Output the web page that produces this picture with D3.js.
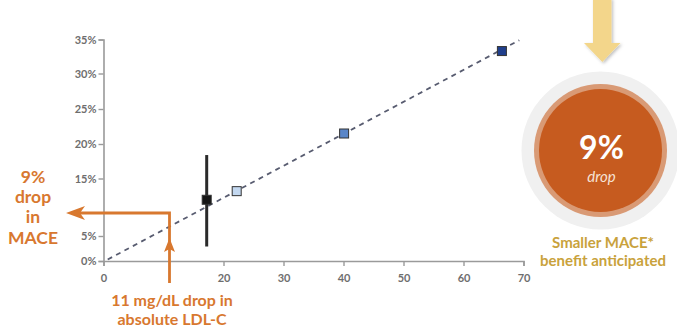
<!DOCTYPE html>
<html><head><meta charset="utf-8">
<script src="https://cdn.jsdelivr.net/npm/d3@7"></script>
<style>
html,body{margin:0;padding:0;background:#fff;}
svg{display:block;font-family:Lato,"Open Sans",sans-serif;}
</style></head>
<body><svg id="c" width="677" height="332"></svg>
<script>
// ---- data ----
const xTicks = [0, 20, 30, 40, 50, 60, 70];
const yTicks = [0, 5, 15, 20, 25, 30, 35];
const pointX = [17.2, 22.2, 40.1, 66.4];
const pointY = [11.3, 12.8, 21.5, 33.3];
const pointNames = ["black", "light", "mid", "dark"];
const errLow = [2.9];
const errHigh = [18.4];
const trendX = [0.7, 69.3];
const trendY = [0.3, 34.9];
const ldlDrop = 11;      // mg/dL
const maceDrop = 9;      // %
const leftLabel = ["9%", "drop", "in", "MACE"];
const bottomLabel = ["11 mg/dL drop in", "absolute LDL-C"];
const circleValue = "9%";
const circleSub = "drop";
const rightLabel = ["Smaller MACE*", "benefit anticipated"];

// ---- styles ----
const orange = "#D8782F";
const gold = "#C9A23C";
const fills = {black: "#151515", light: "#C3D8F0", mid: "#5A86C8", dark: "#203F8C"};

const svg = d3.select("#c");
const x = d3.scaleLinear().domain([0, 70]).range([103.5, 523.5]);
// the original axis is unevenly spaced; use piecewise linear mapping
const y = d3.scaleLinear().domain(yTicks).range([261, 236, 178.5, 144, 109, 73.5, 39.5]);

// axes
const xa = svg.append("g").attr("transform", "translate(0,261)")
  .call(d3.axisBottom(x).tickValues(xTicks).tickSize(5).tickSizeOuter(5).tickFormat(d3.format("d")));
const ya = svg.append("g").attr("transform", "translate(103.5,0)")
  .call(d3.axisLeft(y).tickValues(yTicks).tickSize(5).tickSizeOuter(5).tickFormat(d => d + "%"));
[xa, ya].forEach(g => {
  g.select(".domain").attr("stroke", "#9a9a9a").attr("stroke-width", 1.6);
  g.selectAll(".tick line").attr("stroke", "#9a9a9a").attr("stroke-width", 1.4);
  g.selectAll(".tick text").attr("fill", "#6e6e6e").attr("font-size", 11)
    .attr("font-weight", "bold").attr("font-family", "Lato, sans-serif");
});
xa.selectAll(".tick text").attr("dy", "1.2em");
ya.selectAll(".tick text").attr("x", -7);

// trend line
svg.append("path")
  .attr("d", d3.line()(trendX.map((v, i) => [x(v), y(trendY[i])])))
  .attr("stroke", "#585c70").attr("stroke-width", 1.8)
  .attr("stroke-dasharray", "5,4.5").attr("fill", "none");

// error bar
svg.append("line")
  .attr("x1", x(pointX[0])).attr("x2", x(pointX[0]))
  .attr("y1", y(errHigh[0])).attr("y2", y(errLow[0]))
  .attr("stroke", "#2a2a2a").attr("stroke-width", 3);

// points
const sz = 9;
svg.selectAll("rect.pt").data(pointX).join("rect").attr("class", "pt")
  .attr("x", d => x(d) - sz / 2)
  .attr("y", (d, i) => y(pointY[i]) - sz / 2)
  .attr("width", sz).attr("height", sz)
  .attr("fill", (d, i) => fills[pointNames[i]])
  .attr("stroke", "#333").attr("stroke-width", 1);

// orange L-arrow
const ax = x(ldlDrop), ay = y(maceDrop);
svg.append("path")
  .attr("d", `M${ax},283 L${ax},${ay} L74,${ay}`)
  .attr("stroke", orange).attr("stroke-width", 2.8).attr("fill", "none");
// left arrowhead
svg.append("path")
  .attr("d", `M66,${ay} L85,${ay - 7} L80,${ay} L85,${ay + 7} Z`)
  .attr("fill", orange);
// up arrowhead on vertical segment
svg.append("path")
  .attr("d", `M${ax},238 L${ax - 5.5},252 L${ax},249 L${ax + 5.5},252 Z`)
  .attr("fill", orange);

// left label
svg.append("text").attr("text-anchor", "middle").attr("fill", orange)
  .attr("font-size", 17.5).attr("font-weight", "bold")
  .selectAll("tspan").data(leftLabel).join("tspan")
  .attr("x", 33).attr("y", (d, i) => 183 + i * 20.2).text(d => d);

// bottom label
svg.append("text").attr("text-anchor", "middle").attr("fill", orange)
  .attr("font-size", 16).attr("font-weight", "bold")
  .selectAll("tspan").data(bottomLabel).join("tspan")
  .attr("x", 172).attr("y", (d, i) => 306 + i * 18.5).text(d => d);

// yellow arrow with shadow
const defs = svg.append("defs");
const f = defs.append("filter").attr("id", "sh").attr("x", "-30%").attr("y", "-30%").attr("width", "160%").attr("height", "160%");
f.append("feDropShadow").attr("dx", 1.5).attr("dy", 1.5).attr("stdDeviation", 1.5).attr("flood-color", "#000").attr("flood-opacity", 0.25);
svg.append("path")
  .attr("d", "M593,-2 L611.5,-2 L611.5,43 L620.5,43 L602.3,62 L584,43 L593,43 Z")
  .attr("fill", "#F3D68B").attr("filter", "url(#sh)");

// circle
const cx = 600.5, cy = 150.5;
svg.append("circle").attr("cx", cx).attr("cy", cy).attr("r", 79).attr("fill", "#F0F0F0");
svg.append("circle").attr("cx", cx).attr("cy", cy).attr("r", 66.5).attr("fill", "#D99A75");
svg.append("circle").attr("cx", cx).attr("cy", cy).attr("r", 61.5).attr("fill", "#C65B1F");
svg.append("text").attr("x", cx + 1).attr("y", 159).attr("text-anchor", "middle")
  .attr("fill", "#fff").attr("font-size", 32).attr("font-weight", "bold").text(circleValue);
svg.append("text").attr("x", cx + 1).attr("y", 182).attr("text-anchor", "middle")
  .attr("fill", "#F6E3D6").attr("font-size", 15).attr("font-style", "italic").text(circleSub);

// right label
svg.append("text").attr("text-anchor", "middle").attr("fill", gold)
  .attr("font-size", 15).attr("font-weight", "bold")
  .selectAll("tspan").data(rightLabel).join("tspan")
  .attr("x", 603).attr("y", (d, i) => 248 + i * 17.5).text(d => d);
</script></body></html>
